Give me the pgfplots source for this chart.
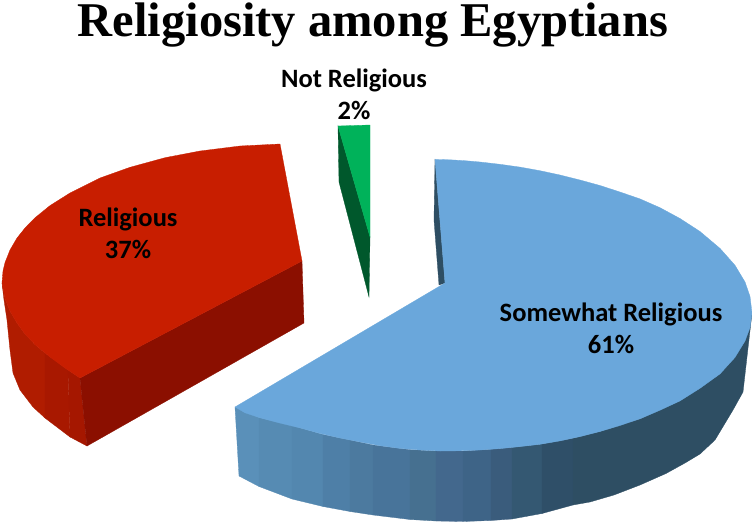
\documentclass[border=0pt]{standalone}
\usepackage{pgfplots}
\pgfplotsset{compat=1.18}
\usepackage{fontspec}
\setmainfont{Liberation Serif}
\newfontfamily\labelfont{Carlito}[BoldFont=Carlito Bold]
\definecolor{blueTop}{HTML}{6AA7DB}
\definecolor{blueDark}{HTML}{2E4E63}
\definecolor{blueA}{HTML}{5A90B9}
\definecolor{blueB}{HTML}{568BB3}
\definecolor{blueC}{HTML}{5387AF}
\definecolor{blueD}{HTML}{4E7FA7}
\definecolor{blueE}{HTML}{4C7A9F}
\definecolor{blueF}{HTML}{48749A}
\definecolor{blueG}{HTML}{467090}
\definecolor{blueH}{HTML}{43688D}
\definecolor{blueI}{HTML}{3E6487}
\definecolor{blueJ}{HTML}{3A5C7C}
\definecolor{blueK}{HTML}{345872}
\definecolor{blueL}{HTML}{2F4F68}
\definecolor{redTop}{HTML}{C81E00}
\definecolor{redCut}{HTML}{8B0F00}
\definecolor{redA}{HTML}{B01C00}
\definecolor{redB}{HTML}{A81800}
\definecolor{redC}{HTML}{A51700}
\definecolor{greenTop}{HTML}{00B25A}
\definecolor{greenDark}{HTML}{00582C}
\newcommand{\band}[2]{\addplot[fill=#1,draw=#1,line width=0.3pt] coordinates {#2} --cycle;}
\newcommand{\pielabel}[3]{\node[font=\labelfont\bfseries\fontsize{26.5}{32}\selectfont,align=center,text=black] at (axis cs:#1,#2) {#3};}
\begin{document}
\begin{tikzpicture}
\useasboundingbox (0,0) rectangle (752pt,522pt);
\begin{axis}[at={(0,0)},anchor=south west,x=1pt,y=1pt,scale only axis,
  xmin=0,xmax=752,ymin=0,ymax=522,y dir=reverse,hide axis,clip=false]
% Somewhat Religious: cut face and rim bands, left to right
\band{blueDark}{(445,283)(435,159)(434,220)(439,285)}
\band{blueA}{(235,407)(259,417.5)(259,486.5)(239,476)}
\band{blueB}{(259,417.5)(292,425.5)(292,499)(259,486.5)}
\band{blueC}{(292,425.5)(323,434.5)(323,506.5)(292,499)}
\band{blueD}{(323,434.5)(350,440)(350,511.5)(323,506.5)}
\band{blueE}{(350,440)(373,445)(373,515)(350,511.5)}
\band{blueF}{(373,445)(410,449.7)(410,519.5)(373,515)}
\band{blueG}{(410,449.7)(436,451)(436,521)(410,519.5)}
\band{blueH}{(436,451)(463,451)(463,521.5)(436,521)}
\band{blueI}{(463,451)(491,449.3)(491,520.5)(463,521.5)}
\band{blueJ}{(491,449.3)(512,447.4)(512,519)(491,520.5)}
\band{blueK}{(512,447.4)(542,444)(542,513.5)(512,519)}
\band{blueL}{(542,444)(573,438.2)(573,505)(542,513.5)}
\band{blueDark}{(573,438.2)(600,431.5)(640,418.8)(680,400.9)(720,373.9)(745,341)(752,313)(743,392)(733,410)(724,425)(715,440)(700,454)(685,463)(666,473.5)(640,485)(614,495)(590,502)(573,505)}
% Somewhat Religious: top face
\addplot[fill=blueTop,draw=blueTop,line width=0.3pt] coordinates {
(445,283)(435,159.4)(450,159.8)(465,160.7)(480,162)(500,164.3)(520,167.1)(540,170.7)(560,175)(580,180)(600,185.5)(620,192)(640,198.9)(660,207.7)(680,218.5)(700,231.5)(720,248.4)(735,265.3)(745,282)(750,296.4)(752,313)
(750,327.7)(745,341)(735,357.4)(720,373.9)(700,388.3)(680,400.9)(660,410.2)(640,418.8)(620,425.5)(600,431.5)(580,436.6)(560,440.9)(540,444.3)(520,446.6)(500,448.6)(480,450)(460,450.8)(440,451)(420,450)(400,448.4)(380,445.7)(360,441.9)(340,438)(320,433.4)(300,427.9)(280,423.1)(260,417.8)(245,412.8)(235,407)
} --cycle;
% Religious: rim, cut face, top face
\band{redA}{(2,283)(5,298.4)(10,311)(17,323)(25,334)(35,344.6)(45,353)(45,418)(33,407)(20,390)(13,373)(10,350)(7,320)(4,300)}
\band{redB}{(45,353)(68,370)(70,437)(45,418)}
\band{redC}{(68,370)(80,378)(87,446)(70,437)}
\band{redCut}{(80,378)(302,261)(304,323)(87,446)}
\addplot[fill=redTop,draw=redTop,line width=0.3pt] coordinates {
(280,144)(302,261)(80,378)(65,368)(50,357)(35,344.6)(25,334)(17,323)(10,311)(5,298.4)(2,283)(3,271)(5,262.6)(10,250)(17,238)(25,228)(35,217.8)(50,205.6)(70,193)(100,178)(130,167.3)(165,157.7)(200,151)(240,146)
} --cycle;
% Not Religious: wedge face and top face
\band{greenDark}{(338,126)(339,182)(369,297)(370,237)}
\band{greenTop}{(338,126)(370,125)(370,237)}
% Labels
\node[font=\bfseries\fontsize{48.5}{52}\selectfont] at (axis cs:373,25) {Religiosity among Egyptians};
\pielabel{354}{94}{Not Religious\\2\%}
\pielabel{128}{233}{Religious\\37\%}
\pielabel{611}{328}{Somewhat Religious\\61\%}
\end{axis}
\end{tikzpicture}
\end{document}
